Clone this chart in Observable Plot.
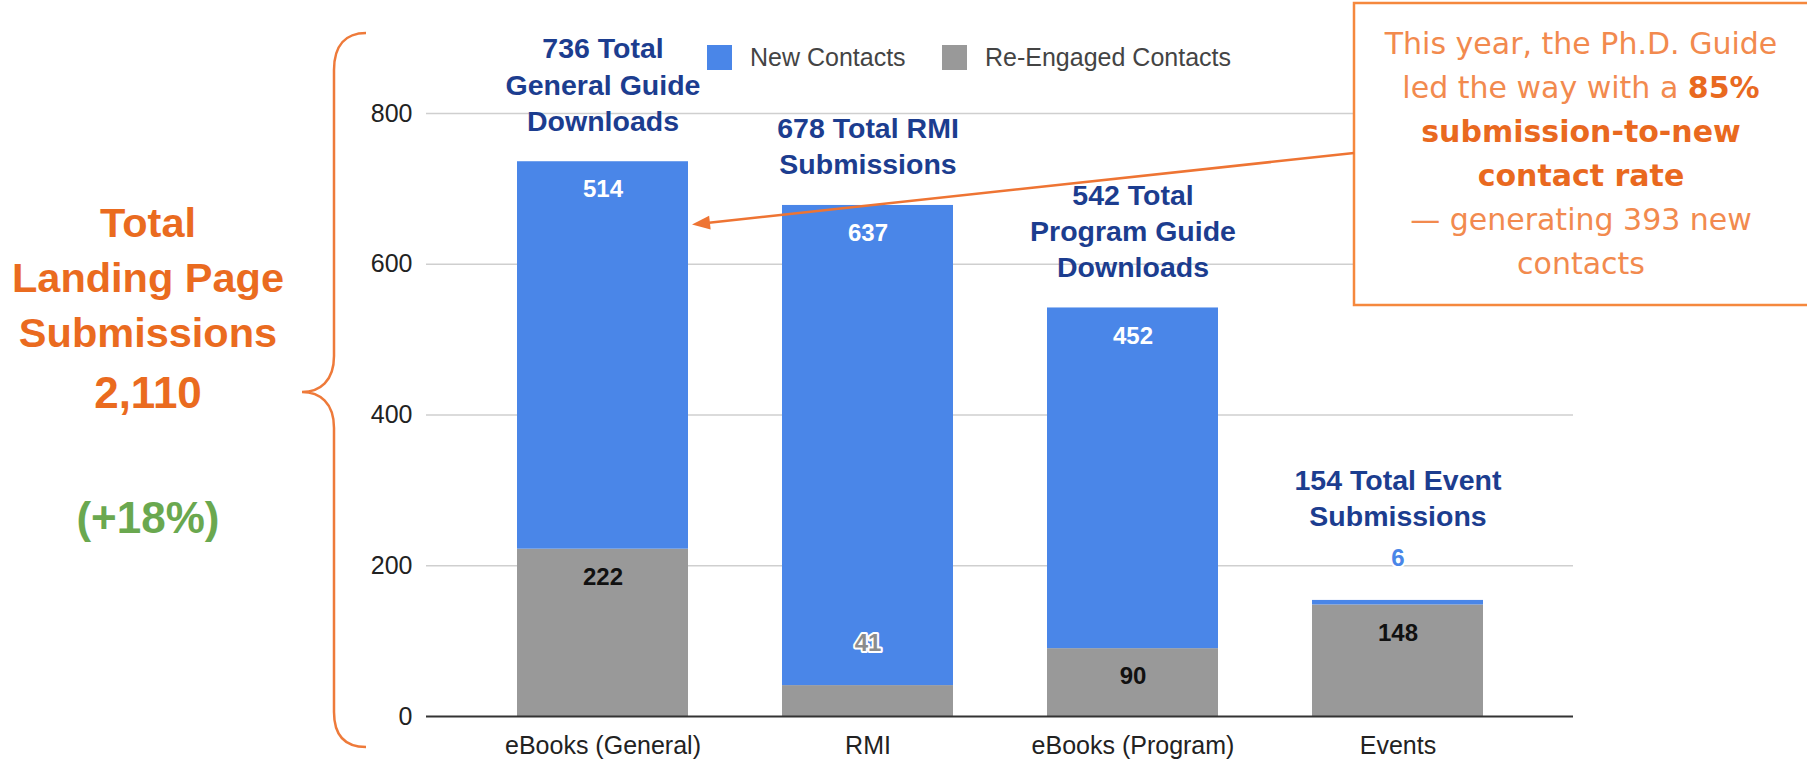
<!DOCTYPE html>
<html>
<head>
<meta charset="utf-8">
<script src="https://cdn.jsdelivr.net/npm/d3@7"></script>
<script src="https://cdn.jsdelivr.net/npm/@observablehq/plot@0.6"></script>
<style>
  html, body { margin: 0; padding: 0; background: #fff; }
  #chart { width: 1807px; height: 760px; }
</style>
</head>
<body>
<div id="chart"></div>
<script>
// ---- data ----
const categories = ["eBooks (General)", "RMI", "eBooks (Program)", "Events"];
const newContacts = [514, 637, 452, 6];
const reEngaged = [222, 41, 90, 148];
const seriesNames = ["New Contacts", "Re-Engaged Contacts"];
const headings = [
  "Total\nGeneral Guide\nDownloads",
  "Total RMI\nSubmissions",
  "Total\nProgram Guide\nDownloads",
  "Total Event\nSubmissions"
];
const yTicks = [0, 200, 400, 600, 800];
const summaryTitle = ["Total", "Landing Page", "Submissions"];
const summaryTotal = "2,110";
const summaryGrowth = "(+18%)";
const calloutLines = [
  [["This year, the Ph.D. Guide", false]],
  [["led the way with a ", false], ["85%", true]],
  [["submission-to-new", true]],
  [["contact rate", true]],
  [["\u2014 generating 393 new", false]],
  [["contacts", false]]
];

// ---- tables ----
const rows = categories.flatMap((c, i) => [
  {category: c, series: "Re-Engaged Contacts", value: reEngaged[i]},
  {category: c, series: "New Contacts", value: newContacts[i]}
]);
const totals = categories.map((c, i) => ({
  category: c,
  total: newContacts[i] + reEngaged[i],
  heading: `${newContacts[i] + reEngaged[i]} ${headings[i]}`
}));

const BLUE = "#4A86E8", GRAY = "#999999", NAVY = "#1C3D8F";
const stackOrder = ["Re-Engaged Contacts", "New Contacts"];
const st = {x: "category", y: "value", z: "series", order: stackOrder};
const INSIDE_MIN = 60;

const plot = Plot.plot({
  width: 1807,
  height: 760,
  marginLeft: 426,
  marginRight: 234,
  marginTop: 113,
  marginBottom: 44,
  style: {fontFamily: "'Liberation Sans', Arial, sans-serif", background: "white", overflow: "visible"},
  x: {domain: categories, paddingInner: 0.355, paddingOuter: 0.34, label: null},
  y: {domain: [0, 800], label: null},
  color: {domain: seriesNames, range: [BLUE, GRAY]},
  marks: [
    Plot.gridY(yTicks.filter(t => t > 0), {stroke: "#cfcfcf", strokeOpacity: 1, strokeWidth: 1.5}),
    Plot.barY(rows, {...st, fill: "series"}),
    Plot.ruleY([0], {stroke: "#333", strokeWidth: 2}),
    Plot.axisY(yTicks, {tickSize: 0, tickPadding: 14, fontSize: 25, color: "#222", label: null}),
    Plot.axisX({tickSize: 0, tickPadding: 20, fontSize: 25, color: "#222", label: null}),
    // inside labels
    Plot.text(rows, Plot.stackY2({...st,
      text: d => d.series === "New Contacts" && d.value >= INSIDE_MIN ? `${d.value}` : "",
      fill: "white", dy: 28, fontSize: 24, fontWeight: "bold"})),
    Plot.text(rows, Plot.stackY2({...st,
      text: d => d.series === "Re-Engaged Contacts" && d.value >= INSIDE_MIN ? `${d.value}` : "",
      fill: "#111", dy: 28, fontSize: 24, fontWeight: "bold"})),
    // outside labels
    Plot.text(rows, Plot.stackY2({...st,
      text: d => d.series === "New Contacts" && d.value < INSIDE_MIN ? `${d.value}` : "",
      fill: BLUE, stroke: "white", strokeWidth: 4, paintOrder: "stroke", dy: -42, fontSize: 24, fontWeight: "bold"})),
    Plot.text(rows, Plot.stackY2({...st,
      text: d => d.series === "Re-Engaged Contacts" && d.value < INSIDE_MIN ? `${d.value}` : "",
      fill: "#8c8c8c", stroke: "white", strokeWidth: 4, paintOrder: "stroke", dy: -42, fontSize: 24, fontWeight: "bold"})),
    // headings above bars
    Plot.text(totals.filter(d => d.category !== "Events"), {x: "category", y: "total", text: "heading",
      lineAnchor: "bottom", lineHeight: 1.27, dy: -31, fontSize: 28.5, fontWeight: "bold", fill: NAVY}),
    Plot.text(totals.filter(d => d.category === "Events"), {x: "category", y: "total", text: "heading",
      lineAnchor: "bottom", lineHeight: 1.27, dy: -74, fontSize: 28.5, fontWeight: "bold", fill: NAVY})
  ]
});

document.getElementById("chart").appendChild(plot);

// ---- decorations ----
const svg = d3.select(plot);
const xs = plot.scale("x"), ys = plot.scale("y"), cs = plot.scale("color");
const g = svg.append("g").attr("font-family", "'Liberation Sans', Arial, sans-serif");

// legend
const legendX = [707, 942];
seriesNames.forEach((s, i) => {
  g.append("rect").attr("x", legendX[i]).attr("y", 45).attr("width", 25).attr("height", 25)
    .attr("fill", cs.apply(s));
  g.append("text").attr("x", legendX[i] + 43).attr("y", 66).attr("font-size", 25)
    .attr("text-anchor", "start").attr("fill", "#444").text(s);
});

// left summary
const ORANGE = "#EA6B1F";
summaryTitle.forEach((t, i) => {
  g.append("text").attr("x", 148).attr("y", 237 + i * 55).attr("text-anchor", "middle")
    .attr("font-size", 41.5).attr("font-weight", "bold").attr("fill", ORANGE).text(t);
});
g.append("text").attr("x", 148).attr("y", 408).attr("text-anchor", "middle")
  .attr("font-size", 44).attr("font-weight", "bold").attr("fill", ORANGE).text(summaryTotal);
g.append("text").attr("x", 148).attr("y", 533).attr("text-anchor", "middle")
  .attr("font-size", 44).attr("font-weight", "bold").attr("fill", "#6AA84F").text(summaryGrowth);

// brace
g.append("path")
  .attr("d", "M366,33 C346,33 334,45 334,70 L334,356 C334,381 320,392 302,392 C320,392 334,403 334,428 L334,712 C334,737 346,747 366,747")
  .attr("fill", "none").attr("stroke", "#EE7A3A").attr("stroke-width", 2.5);

// callout box
const boxX = 1354;
g.append("rect").attr("x", boxX).attr("y", 3).attr("width", 470).attr("height", 302)
  .attr("fill", "white").attr("stroke", "#F5883D").attr("stroke-width", 2.5);
calloutLines.forEach((parts, i) => {
  const t = g.append("text").attr("x", 1581).attr("y", 54 + i * 44).attr("text-anchor", "middle")
    .attr("font-family", "'DejaVu Sans', sans-serif").attr("font-size", 30);
  parts.forEach(([s, b]) => {
    t.append("tspan").attr("font-weight", b ? "bold" : "normal")
      .attr("fill", b ? "#E9691F" : "#F28A4E").text(s);
  });
});

// arrow
const x0 = boxX, y0 = 153;
const x1 = xs.apply(categories[0]) + xs.bandwidth + 4, y1 = ys.apply(652);
g.append("line").attr("x1", x0).attr("y1", y0).attr("x2", x1 + 10).attr("y2", y1 - 1)
  .attr("stroke", "#EE7433").attr("stroke-width", 2.5);
const ang = Math.atan2(y1 - y0, x1 - x0);
const L = 18, W = 7;
const bx = x1 - L * Math.cos(ang), by = y1 - L * Math.sin(ang);
const px = -Math.sin(ang) * W, py = Math.cos(ang) * W;
g.append("polygon")
  .attr("points", `${x1},${y1} ${bx + px},${by + py} ${bx - px},${by - py}`)
  .attr("fill", "#EE7433");
</script>
</body>
</html>
